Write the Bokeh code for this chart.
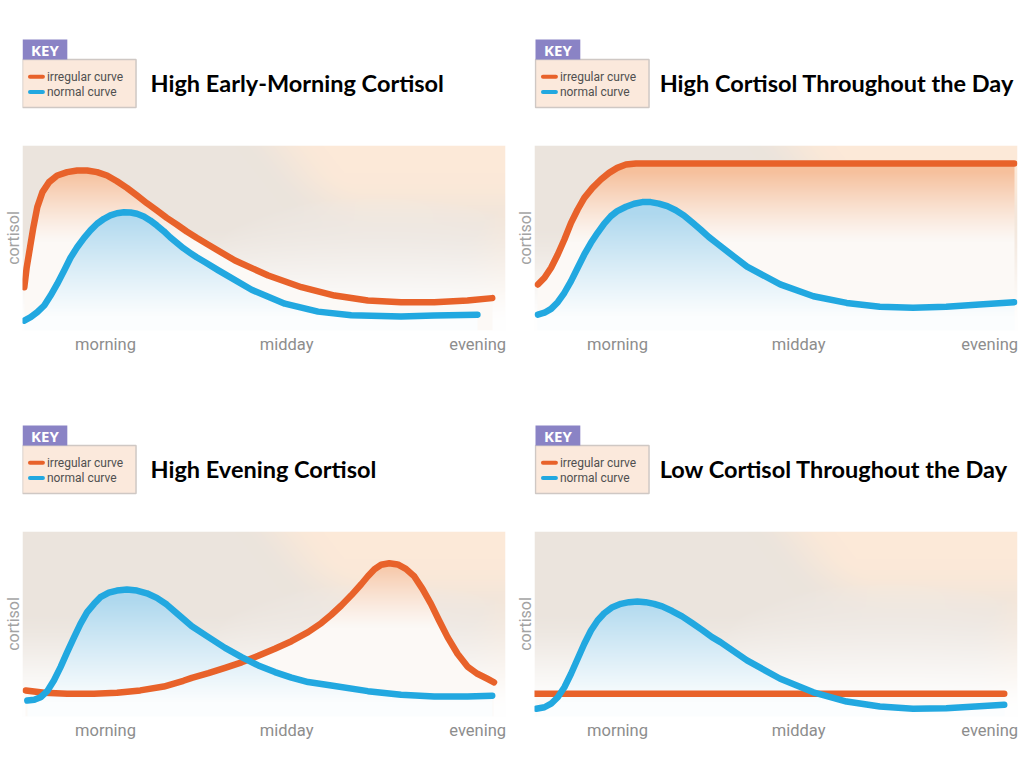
import numpy as np
from bokeh.plotting import figure
from bokeh.layouts import column, row
from bokeh.models import Range1d, FixedTicker
from bokeh.core.properties import value
from bokeh.embed import file_html
from bokeh.resources import INLINE

# ---------------- data ----------------
titles = ["High Early-Morning Cortisol", "High Cortisol Throughout the Day",
          "High Evening Cortisol", "Low Cortisol Throughout the Day"]
tick_hours = [8, 14, 20.33]
tick_labels = ["morning", "midday", "evening"]
legend_labels = ["irregular curve", "normal curve"]
key_title = "KEY"
y_label = "cortisol"

# panel 1: High Early-Morning Cortisol
p1_irregular_x = [5.31, 5.39, 5.50, 5.61, 5.74, 5.91, 6.13, 6.40, 6.73, 7.06, 7.39, 7.72, 8.05,
                  8.38, 8.71, 9.04, 9.37, 9.70, 10.03, 10.36, 10.69, 11.02, 11.35, 12.29, 13.39,
                  14.49, 15.59, 16.69, 17.79, 18.89, 19.99, 20.81]
p1_irregular_y = [23.4, 34.2, 45.0, 55.8, 66.7, 74.8, 80.2, 83.8, 85.6, 86.5, 86.5, 85.6, 83.8,
                  80.7, 77.1, 73.0, 68.8, 64.9, 60.9, 57.3, 53.5, 50.1, 46.9, 37.8, 29.7,
                  23.4, 18.9, 16.2, 15.3, 15.3, 16.2, 17.5]
p1_normal_x = [5.31, 5.52, 5.74, 5.97, 6.18, 6.40, 6.63, 6.84, 7.06, 7.29, 7.50, 7.72, 7.95,
               8.16, 8.38, 8.61, 8.83, 9.04, 9.27, 9.48, 9.70, 9.93, 10.14, 10.36, 10.58, 10.80,
               11.02, 11.30, 11.74, 12.84, 13.94, 15.04, 16.14, 17.79, 18.89, 20.32]
p1_normal_y = [5.4, 7.2, 9.9, 13.5, 18.9, 25.2, 32.4, 39.3, 45.0, 50.1, 54.1, 57.7, 60.4,
               62.2, 63.4, 63.9, 63.8, 63.1, 61.6, 59.5, 56.8, 53.7, 50.4, 47.4, 44.5, 42.0,
               39.6, 36.9, 32.5, 22.0, 14.5, 10.2, 8.3, 7.6, 8.1, 8.5]

# panel 2: High Cortisol Throughout the Day
p2_irregular_x = [5.36, 5.58, 5.80, 6.02, 6.24, 6.46, 6.68, 6.90, 7.17, 7.45, 7.72, 7.99, 8.28,
                  8.61, 9.04, 10.0, 12.0, 14.0, 16.0, 18.0, 20.0, 21.14]
p2_irregular_y = [24.9, 28.5, 33.9, 41.1, 49.2, 58.2, 65.4, 71.7, 77.1, 81.6, 85.2, 87.9, 89.7,
                  90.3, 90.3, 90.3, 90.3, 90.3, 90.3, 90.3, 90.3, 90.3]
p2_normal_x = [5.36, 5.58, 5.80, 6.02, 6.24, 6.46, 6.68, 6.90, 7.12, 7.34, 7.56, 7.78, 7.99,
               8.28, 8.55, 8.82, 9.10, 9.37, 9.65, 9.93, 10.20, 10.47, 10.75, 11.02, 11.30,
               12.29, 13.39, 14.49, 15.59, 16.69, 17.79, 18.89, 19.99, 21.14]
p2_normal_y = [8.6, 9.6, 11.7, 15.3, 20.4, 26.7, 33.9, 41.1, 47.4, 52.8, 57.8, 61.8, 64.5,
               66.9, 68.5, 69.4, 69.4, 68.6, 67.2, 65.0, 62.2, 58.5, 54.6, 50.6, 47.0,
               34.5, 24.9, 18.5, 14.9, 12.8, 12.3, 12.8, 14.1, 15.3]

# panel 3: High Evening Cortisol
p3_irregular_x = [5.36, 5.97, 6.73, 7.62, 8.38, 9.15, 9.93, 10.58, 10.86, 11.41, 11.96, 12.51,
                  13.06, 13.61, 14.16, 14.71, 15.15, 15.48, 15.81, 16.14, 16.47, 16.69, 16.91,
                  17.13, 17.40, 17.68, 17.95, 18.23, 18.50, 18.78, 19.05, 19.33, 19.66, 19.99,
                  20.32, 20.65, 20.87]
p3_irregular_y = [14.1, 12.8, 12.3, 12.3, 12.8, 14.1, 16.2, 19.3, 20.9, 23.4, 26.3, 29.3,
                  32.8, 36.6, 40.7, 45.6, 50.5, 55.0, 60.0, 65.5, 71.5, 75.8, 79.6,
                  82.0, 82.8, 82.2, 79.8, 75.7, 69.0, 60.9, 51.9, 42.9, 33.9, 27.0,
                  23.1, 20.4, 18.5]
p3_normal_x = [5.41, 5.64, 5.85, 6.07, 6.29, 6.51, 6.73, 6.96, 7.17, 7.39, 7.62, 7.83, 8.11,
               8.38, 8.71, 9.04, 9.37, 9.70, 10.03, 10.36, 10.86, 11.41, 11.96, 12.51, 13.06,
               13.61, 14.16, 14.71, 15.48, 16.69, 17.79, 18.89, 19.99, 20.81]
p3_normal_y = [8.6, 9.0, 10.4, 13.7, 19.5, 26.7, 34.8, 42.9, 50.1, 56.4, 60.9, 64.5, 66.9,
               68.1, 68.6, 68.1, 66.6, 64.1, 60.5, 55.8, 48.8, 42.9, 37.1, 32.1, 27.6,
               24.0, 21.0, 18.6, 16.8, 13.7, 11.7, 10.8, 10.8, 11.2]

# panel 4: Low Cortisol Throughout the Day
p4_irregular_x = [5.27, 8.0, 11.0, 14.0, 17.0, 20.0, 20.81]
p4_irregular_y = [12.3, 12.3, 12.3, 12.3, 12.3, 12.3, 12.3]
p4_normal_x = [5.31, 5.58, 5.80, 6.02, 6.24, 6.46, 6.68, 6.90, 7.12, 7.34, 7.56, 7.83, 8.11,
               8.38, 8.66, 8.93, 9.21, 9.48, 9.81, 10.14, 10.47, 10.80, 11.13, 11.41, 12.29,
               13.39, 14.49, 15.59, 16.69, 17.79, 18.89, 19.99, 20.81]
p4_normal_y = [4.2, 5.0, 6.9, 10.4, 15.8, 23.1, 31.2, 39.3, 46.5, 51.9, 55.8, 59.1, 60.9,
               61.8, 62.2, 61.8, 60.9, 59.5, 57.0, 54.1, 50.5, 46.8, 42.9, 40.2, 30.3,
               20.4, 13.1, 8.1, 5.4, 4.2, 4.5, 5.6, 6.3]

irregular_x = [p1_irregular_x, p2_irregular_x, p3_irregular_x, p4_irregular_x]
irregular_y = [p1_irregular_y, p2_irregular_y, p3_irregular_y, p4_irregular_y]
normal_x = [p1_normal_x, p2_normal_x, p3_normal_x, p4_normal_x]
normal_y = [p1_normal_y, p2_normal_y, p3_normal_y, p4_normal_y]

# ---------------- style / layout ----------------
ORANGE = "#e8622a"
BLUE = "#22a8e0"
KEY_PURPLE = "#8a83c5"
KEY_FILL = "#fbe9dc"
KEY_LINE = "#cfc8c4"
X0, X1 = 5.25, 21.25
Y0, Y1 = 0, 100
FIG_W = 512
HEAD_H = 145
CHART_H = [241, 237]
BORDER_BOTTOM = [56, 52]
BORDER_LEFT = 20
BORDER_RIGHT = 7
COL_OFF = [0, 512]
KEY_X = [20.0, 533.0]
TITLE_X = [148.5, 657.7]


def smooth(e0, e1, x):
    t = np.clip((x - e0) / (e1 - e0), 0, 1)
    return t * t * (3 - 2 * t)


def chart_image(ix, iy, nx_, ny_, nx=485, ny=185):
    xs = X0 + (np.arange(nx) + 0.5) * (X1 - X0) / nx
    ys = Y0 + (np.arange(ny) + 0.5) * (Y1 - Y0) / ny
    XX, YY = np.meshgrid(xs, ys)
    u = (XX - X0) / (X1 - X0)
    v = (YY - Y0) / (Y1 - Y0)
    white = np.array([255.0, 255.0, 255.0])
    gray = np.array([235.0, 228.0, 221.0])
    peach = np.array([252.0, 233.0, 216.0])
    blob = np.array([241.0, 236.0, 232.0])
    s = np.maximum(smooth(0.44, 0.62, u - 0.3 * (1 - v)) * smooth(0.45, 0.85, v),
                   smooth(0.9, 1.02, u) * 0.6)[..., None]
    base = gray * (1 - s) + peach * s
    d = ((u - 0.74) / 0.34) ** 2 + ((v - 0.42) / 0.3) ** 2
    bw = (np.clip(1 - d, 0, 1) ** 0.6 * 0.55)[..., None]
    base = base * (1 - bw) + blob * bw
    f = smooth(0.0, 0.6, v)[..., None]
    col = white * (1 - f) + base * f

    # peach fill under the irregular curve
    oy = np.interp(XX, ix, iy)
    under_o = ((YY < oy) & (XX >= ix[0]) & (XX <= ix[-1]))[..., None]
    to = (np.clip((YY - 48) / 38, 0, 1) ** 1.2)[..., None]
    ocol = np.array([252.0, 249.0, 246.0]) * (1 - to) + np.array([246.0, 192.0, 156.0]) * to
    col = np.where(under_o, ocol, col)

    # blue fill under the normal curve
    by = np.interp(XX, nx_, ny_)
    under_b = ((YY < by) & (XX >= nx_[0]) & (XX <= nx_[-1]))[..., None]
    tb = (np.clip((YY - 8) / 56, 0, 1) ** 1.1)[..., None]
    bcol = np.array([251.0, 253.0, 254.0]) * (1 - tb) + np.array([174.0, 216.0, 238.0]) * tb
    col = np.where(under_b, bcol, col)

    img = np.empty((ny, nx), dtype=np.uint32)
    view = img.view(dtype=np.uint8).reshape((ny, nx, 4))
    for k in range(3):
        view[..., k] = np.clip(col[..., k], 0, 255).astype(np.uint8)
    view[..., 3] = 255
    return img


def make_header(title, c):
    off = COL_OFF[c]
    h = figure(width=FIG_W, height=HEAD_H,
               x_range=Range1d(off + BORDER_LEFT, off + FIG_W - BORDER_RIGHT),
               y_range=Range1d(HEAD_H, 0),
               toolbar_location=None, output_backend="svg",
               min_border_left=BORDER_LEFT, min_border_right=BORDER_RIGHT,
               min_border_top=0, min_border_bottom=0,
               x_axis_location=None, y_axis_location=None, title=None)
    h.outline_line_color = None
    h.grid.visible = False
    h.background_fill_color = "white"
    h.border_fill_color = "white"
    kx = KEY_X[c]
    h.quad(left=[kx], right=[kx + 114], top=[59], bottom=[107], fill_color=KEY_FILL,
           line_color=KEY_LINE, line_width=1.5)
    h.quad(left=[kx], right=[kx + 45], top=[39], bottom=[59], fill_color=KEY_PURPLE, line_color=None)
    h.text(x=[kx + 22.5], y=[49.5], text=[key_title], text_color="white", text_font=value("Open Sans"),
           text_font_style="bold", text_font_size="15px", text_align="center", text_baseline="middle")
    h.segment(x0=[kx + 7.5, kx + 7.5], x1=[kx + 20.5, kx + 20.5], y0=[76.3, 91.5], y1=[76.3, 91.5],
              line_color=[ORANGE, BLUE], line_width=4, line_cap="round")
    h.text(x=[kx + 24.5, kx + 24.5], y=[76.3, 91.5], text=legend_labels, text_color="#505050",
           text_font=value("Roboto"), text_font_size="12px", text_baseline="middle")
    h.text(x=[TITLE_X[c]], y=[82], text=[title], text_color="black", text_font=value("Lato"),
           text_font_style="bold", text_font_size="23.5px", text_baseline="middle")
    return h


def make_chart(i, r, c):
    p = figure(width=FIG_W, height=CHART_H[r], x_range=Range1d(X0, X1), y_range=Range1d(Y0, Y1),
               toolbar_location=None, output_backend="svg", title=None,
               min_border_left=BORDER_LEFT, min_border_right=BORDER_RIGHT,
               min_border_top=0, min_border_bottom=BORDER_BOTTOM[r])
    p.outline_line_color = None
    p.grid.visible = False
    p.background_fill_color = "white"
    p.border_fill_color = "white"
    img = chart_image(irregular_x[i], irregular_y[i], normal_x[i], normal_y[i])
    p.image_rgba(image=[img], x=X0, y=Y0, dw=X1 - X0, dh=Y1 - Y0)
    p.line(irregular_x[i], irregular_y[i], line_color=ORANGE, line_width=6.5,
           line_cap="round", line_join="round")
    p.line(normal_x[i], normal_y[i], line_color=BLUE, line_width=6.5,
           line_cap="round", line_join="round")

    ax = p.xaxis[0]
    ax.ticker = FixedTicker(ticks=tick_hours)
    ax.major_label_overrides = dict(zip(tick_hours, tick_labels))
    ax.axis_line_color = None
    ax.major_tick_line_color = None
    ax.minor_tick_line_color = None
    ax.major_tick_out = 0
    ax.major_tick_in = 0
    ax.major_label_standoff = 4
    ax.major_label_text_font = "Roboto"
    ax.major_label_text_font_size = "16.5px"
    ax.major_label_text_color = "#8d8d8d"

    ay = p.yaxis[0]
    ay.ticker = FixedTicker(ticks=[])
    ay.axis_line_color = None
    ay.major_tick_line_color = None
    ay.minor_tick_line_color = None
    ay.major_tick_out = 0
    ay.major_tick_in = 0
    ay.major_label_standoff = 0
    ay.major_label_text_font_size = "0px"
    ay.axis_label = y_label
    ay.axis_label_standoff = 0
    ay.axis_label_text_font = "Roboto"
    ay.axis_label_text_font_size = "16px"
    ay.axis_label_text_font_style = "normal"
    ay.axis_label_text_color = "#a3a3a3"
    return p


panels = []
for i in range(4):
    r, c = divmod(i, 2)
    panels.append(column(make_header(titles[i], c), make_chart(i, r, c), spacing=0))

layout = column(row(panels[0], panels[1], spacing=0), row(panels[2], panels[3], spacing=0), spacing=0)

open("out.html", "w").write(file_html(layout, INLINE))
